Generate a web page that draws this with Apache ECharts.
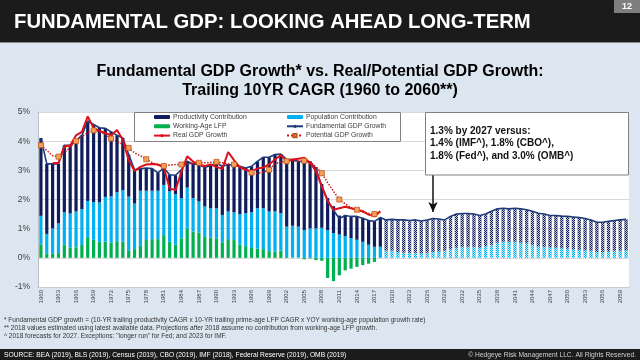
<!DOCTYPE html>
<html><head><meta charset="utf-8">
<script src="https://cdn.jsdelivr.net/npm/echarts@6/dist/echarts.min.js"></script>
<style>html,body{margin:0;padding:0;background:#dce6f1;}#c{width:640px;height:360px;}</style>
</head><body><div id="c"></div>
<script>
const years = ['1960','1961','1962','1963','1964','1965','1966','1967','1968','1969',
'1970','1971','1972','1973','1974','1975','1976','1977','1978','1979',
'1980','1981','1982','1983','1984','1985','1986','1987','1988','1989',
'1990','1991','1992','1993','1994','1995','1996','1997','1998','1999',
'2000','2001','2002','2003','2004','2005','2006','2007','2008','2009',
'2010','2011','2012','2013','2014','2015','2016','2017','2018','2019',
'2020','2021','2022','2023','2024','2025','2026','2027','2028','2029',
'2030','2031','2032','2033','2034','2035','2036','2037','2038','2039',
'2040','2041','2042','2043','2044','2045','2046','2047','2048','2049',
'2050','2051','2052','2053','2054','2055','2056','2057','2058','2059','2060'];

// Historical components 1960-2018
const productivity = [2.67,2.40,2.21,2.04,2.30,2.34,2.43,2.53,2.74,2.66,
2.56,2.35,2.21,1.95,1.79,1.44,1.16,0.75,0.78,0.76,
0.61,0.58,0.57,0.65,0.97,0.90,1.17,1.27,1.34,1.47,
1.55,1.67,1.61,1.61,1.64,1.55,1.58,1.61,1.75,1.86,
1.95,2.03,2.30,2.27,2.24,2.40,2.30,2.10,1.50,1.10,
0.92,0.65,0.72,0.75,0.80,0.82,0.85,0.88,1.00];
const population = [0.98,0.68,0.87,1.02,1.10,1.16,1.23,1.23,1.24,1.29,
1.35,1.54,1.59,1.68,1.77,1.86,1.56,1.89,1.69,1.66,
1.66,1.72,1.73,1.72,1.38,1.40,1.15,1.06,1.04,1.01,
1.03,0.94,0.95,0.95,1.04,1.13,1.22,1.38,1.40,1.36,
1.38,1.28,1.04,1.09,1.06,0.95,1.01,1.01,1.03,0.95,
0.85,0.80,0.75,0.68,0.62,0.55,0.45,0.38,0.38];
const workingAgeLfp = [0.46,0.14,0.14,0.16,0.46,0.36,0.36,0.44,0.71,0.62,
0.55,0.55,0.52,0.57,0.55,0.24,0.30,0.41,0.61,0.64,
0.64,0.78,0.55,0.46,0.67,1.01,0.90,0.87,0.72,0.69,
0.67,0.53,0.64,0.61,0.46,0.40,0.34,0.32,0.30,0.23,
0.21,0.25,0.03,0.01,0.01,-0.05,-0.02,-0.08,-0.10,-0.69,
-0.80,-0.60,-0.43,-0.37,-0.31,-0.25,-0.20,-0.14,0.00];
// Projections 2019-2060
const projProductivity = [1.05,1.07,1.10,1.12,1.11,1.13,1.10,1.12,1.15,1.11,
1.05,1.12,1.15,1.14,1.14,1.12,1.10,1.10,1.15,1.16,
1.15,1.13,1.15,1.16,1.15,1.15,1.13,1.12,1.09,1.10,
1.10,1.10,1.10,1.10,1.09,1.06,1.02,1.02,1.03,1.04,1.05,1.06];
const projPopulation = [0.25,0.25,0.20,0.18,0.17,0.17,0.16,0.18,0.20,0.22,
0.25,0.30,0.35,0.38,0.38,0.38,0.35,0.40,0.45,0.52,
0.55,0.55,0.55,0.52,0.50,0.45,0.40,0.38,0.36,0.35,
0.33,0.32,0.30,0.28,0.26,0.24,0.20,0.20,0.22,0.24,0.25,0.26];
// Lines
const fundamentalGdp = [4.11,3.22,3.22,3.22,3.86,3.86,4.02,4.20,4.69,4.57,
4.46,4.44,4.32,4.20,4.11,3.54,3.02,3.05,3.08,3.06,
2.91,3.08,2.85,2.83,3.02,3.31,3.22,3.20,3.10,3.17,
3.25,3.14,3.20,3.17,3.14,3.08,3.14,3.31,3.45,3.45,
3.54,3.56,3.37,3.37,3.31,3.30,3.29,3.05,2.45,1.98,
1.62,1.35,1.45,1.42,1.42,1.36,1.28,1.25,1.38,1.30,
1.32,1.30,1.30,1.28,1.30,1.26,1.30,1.35,1.33,1.30,
1.42,1.50,1.52,1.52,1.50,1.45,1.50,1.60,1.68,1.70,
1.68,1.70,1.68,1.65,1.60,1.53,1.50,1.45,1.45,1.43,
1.42,1.40,1.38,1.35,1.30,1.22,1.22,1.25,1.28,1.30,1.32];
const realGdp = [null,null,3.25,3.25,3.82,3.85,4.20,4.32,4.85,4.45,
4.35,4.28,4.20,4.38,4.05,3.35,2.98,3.12,3.20,3.22,
3.20,3.10,2.38,2.32,2.95,3.48,3.30,3.20,3.15,3.20,
3.12,3.05,3.63,3.35,3.10,3.02,2.97,3.06,3.10,3.20,
3.37,3.52,3.31,3.37,3.40,3.43,3.25,2.97,2.45,1.95,
1.65,1.70,1.75,1.70,1.65,1.60,1.48,1.42,1.60];
const potentialGdp = [3.86,3.68,3.50,3.47,3.60,3.80,4.00,4.17,4.29,4.37,
4.33,4.23,4.09,3.98,3.89,3.77,3.60,3.50,3.38,3.27,
3.18,3.15,3.18,3.20,3.20,3.22,3.24,3.26,3.26,3.27,
3.29,3.26,3.22,3.20,3.12,3.02,2.92,2.89,2.94,3.02,
3.22,3.29,3.31,3.33,3.31,3.33,3.29,3.12,2.90,2.58,
2.28,2.00,1.85,1.72,1.65,1.56,1.52,1.50,1.55];
const yTicks = [-1, 5, 1];
const annotationYear = '2027';
const annotationLines = ['1.3% by 2027 versus:', '1.4% (IMF^), 1.8% (CBO^),', '1.8% (Fed^), and 3.0% (OMB^)'];
const footnotes = ['* Fundamental GDP growth = (10-YR trailing productivity CAGR x 10-YR trailing prime-age LFP CAGR x YOY working-age population growth rate)',
 '** 2018 values estimated using latest available data. Projections after 2018 assume no contribution from working-age LFP growth.',
 '^ 2018 forecasts for 2027. Exceptions: "longer run" for Fed; and 2023 for IMF.'];

const nHist = productivity.length;
function pad(arr, before, total) {
  const out = [];
  for (let i = 0; i < total; i++) {
    const j = i - before;
    out.push(j >= 0 && j < arr.length ? arr[j] : null);
  }
  return out;
}
const N = years.length;
const FONT = '"Liberation Sans", Arial, sans-serif';
const NAVY = '#101d5c', LBLUE = '#00b0f0', GREEN = '#00b050', RED = '#e0101a';
const hatch = {symbol:'rect', symbolSize:1, dashArrayX:[[1,1],[0,1,1,0]], dashArrayY:[1,0], color:'rgba(255,255,255,0.75)'};

const graphics = [
  {type: 'rect', z: 40, shape: {x: 0, y: 0, width: 640, height: 42}, style: {fill: '#1b1b1b'}},
  {type: 'rect', z: 40, shape: {x: 0, y: 42, width: 640, height: 1}, style: {fill: '#8a8a8a'}},
  {type: 'text', z: 41, x: 14, y: 22, style: {text: 'FUNDAMENTAL GDP: LOOKING AHEAD LONG-TERM', fill: '#fff',
    font: 'bold 20.3px ' + FONT, textVerticalAlign: 'middle'}},
  {type: 'rect', z: 41, shape: {x: 614, y: 0, width: 26, height: 13}, style: {fill: '#7f7f7f'}},
  {type: 'text', z: 42, x: 627, y: 7, style: {text: '12', fill: '#fff', font: 'bold 9px ' + FONT,
    textAlign: 'center', textVerticalAlign: 'middle'}},
  {type: 'text', z: 41, x: 320, y: 72, style: {text: 'Fundamental GDP Growth* vs. Real/Potential GDP Growth:', fill: '#000',
    font: 'bold 16px ' + FONT, textAlign: 'center', textVerticalAlign: 'middle'}},
  {type: 'text', z: 41, x: 320, y: 90.5, style: {text: 'Trailing 10YR CAGR (1960 to 2060**)', fill: '#000',
    font: 'bold 16px ' + FONT, textAlign: 'center', textVerticalAlign: 'middle'}},
  {type: 'rect', z: 40, shape: {x: 134.5, y: 112.5, width: 266, height: 29}, style: {fill: '#fff', stroke: '#808080', lineWidth: 1}},
  {type: 'rect', z: 40, shape: {x: 425.5, y: 112.5, width: 203, height: 62.5}, style: {fill: '#fff', stroke: '#808080', lineWidth: 1}},
  {type: 'rect', z: 40, shape: {x: 0, y: 349, width: 640, height: 11}, style: {fill: '#1b1b1b'}},
  {type: 'text', z: 41, x: 4, y: 355, style: {text: 'SOURCE: BEA (2019), BLS (2019), Census (2019), CBO (2019), IMF (2018), Federal Reserve (2019), OMB (2019)',
    fill: '#fff', font: '6.7px ' + FONT, textVerticalAlign: 'middle'}},
  {type: 'text', z: 41, x: 636, y: 355, style: {text: '\u00a9 Hedgeye Risk Management LLC. All Rights Reserved.',
    fill: '#d0d0d0', font: '6.7px ' + FONT, textAlign: 'right', textVerticalAlign: 'middle'}}
];
annotationLines.forEach((t, k) => graphics.push({type: 'text', z: 41, x: 430, y: 131 + k * 12.5,
  style: {text: t, fill: '#111', font: 'bold 10px ' + FONT, textVerticalAlign: 'middle'}}));
footnotes.forEach((t, k) => graphics.push({type: 'text', z: 41, x: 4, y: 320 + k * 8.2,
  style: {text: t, fill: '#333', font: '6.5px ' + FONT, textVerticalAlign: 'middle'}}));

const chart = echarts.init(document.getElementById('c'), null, {renderer:'canvas'});
chart.setOption({
  animation: false,
  backgroundColor: '#dce6f1',
  textStyle: {fontFamily: FONT},
  grid: {left: 38, right: 11, top: 112, bottom: 73, show: true, backgroundColor: '#fff', borderWidth: 0},
  legend: [
    {data: ['Productivity Contribution', 'Working-Age LFP', 'Real GDP Growth'],
     orient: 'vertical', left: 153, top: 112.5, padding: 0, itemGap: 0.3, itemWidth: 16, itemHeight: 4, itemStyle: {},
     selectedMode: false, z: 50,
     textStyle: {fontSize: 6.8, color: '#404040', lineHeight: 9, fontFamily: FONT, padding: [0, 0, 0, -2]}},
    {data: ['Population Contribution', 'Fundamental GDP Growth', 'Potential GDP Growth'],
     orient: 'vertical', left: 286, top: 112.5, padding: 0, itemGap: 0.3, itemWidth: 16, itemHeight: 4,
     selectedMode: false, z: 50,
     textStyle: {fontSize: 6.8, color: '#404040', lineHeight: 9, fontFamily: FONT, padding: [0, 0, 0, -2]}}
  ],
  xAxis: {
    type: 'category', data: years, boundaryGap: true,
    axisLine: {show: true, onZero: false, lineStyle: {color: '#c8c8c8', type: 'dotted'}},
    axisTick: {show: false},
    axisLabel: {interval: 2, rotate: 90, fontSize: 6, color: '#404040', margin: 3, fontFamily: FONT},
    splitLine: {show: false}
  },
  yAxis: {
    type: 'value', min: yTicks[0], max: yTicks[1], interval: yTicks[2],
    axisLine: {show: true, lineStyle: {color: '#bfbfbf'}},
    axisTick: {show: false},
    axisLabel: {formatter: '{value}%', fontSize: 8.5, color: '#404040', margin: 8, fontFamily: FONT},
    splitLine: {show: true, lineStyle: {color: '#d9d9d9', width: 1}}
  },
  series: [
    {name: 'Working-Age LFP', type: 'bar', stack: 'g', barWidth: '55%', data: pad(workingAgeLfp, 0, N),
     itemStyle: {color: GREEN}},
    {name: 'Population Contribution', type: 'bar', stack: 'g', data: pad(population, 0, N),
     itemStyle: {color: LBLUE}},
    {name: 'Productivity Contribution', type: 'bar', stack: 'g', data: pad(productivity, 0, N),
     itemStyle: {color: NAVY}},
    {name: 'Population (proj)', type: 'bar', stack: 'g', data: pad(projPopulation, nHist, N),
     itemStyle: {color: LBLUE, decal: hatch}},
    {name: 'Productivity (proj)', type: 'bar', stack: 'g', data: pad(projProductivity, nHist, N),
     itemStyle: {color: NAVY, decal: hatch}},
    {name: 'Fundamental GDP Growth', type: 'line', data: fundamentalGdp, symbol: 'none', z: 5,
     lineStyle: {color: '#1f3a78', width: 1.6}, itemStyle: {color: '#1f3a78'},
     markLine: {silent: true, symbol: ['none', 'arrow'], symbolSize: [7, 10], label: {show: false},
       lineStyle: {color: '#111', width: 1.5, type: 'solid'},
       data: [[{coord: [annotationYear, 2.85]}, {coord: [annotationYear, 1.57]}]]}},
    {name: 'Real GDP Growth', type: 'line', data: pad(realGdp, 0, N), symbol: 'none', z: 6,
     lineStyle: {color: RED, width: 2}, itemStyle: {color: RED}},
    {name: 'Potential GDP Growth', type: 'line', data: pad(potentialGdp, 0, N), z: 7,
     symbol: 'rect', symbolSize: 5,
     lineStyle: {color: '#d01010', width: 1.5, type: 'dotted'},
     itemStyle: {color: '#f5a15c', borderColor: '#c0561a', borderWidth: 0.8}}
  ],
  graphic: graphics
});
</script></body></html>
